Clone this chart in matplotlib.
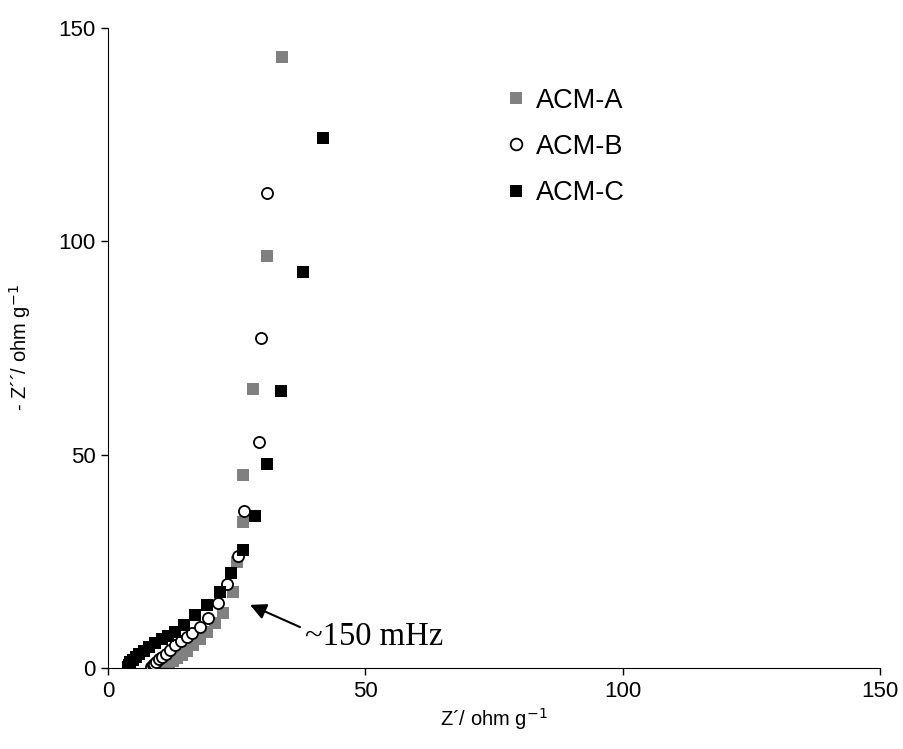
import matplotlib
matplotlib.use('Agg')
import matplotlib.pyplot as plt

plt.rcParams['font.family'] = ['Liberation Sans', 'DejaVu Sans']

# ACM-A (grey squares)
a_x = [10.8, 11.3, 11.9, 12.6, 13.4, 14.3, 15.3, 16.5, 17.8, 19.3, 20.8, 22.3, 24.3, 25.1, 26.2, 26.2, 28.2, 30.9, 33.8]
a_y = [0.0, 0.5, 1.0, 1.6, 2.3, 3.1, 4.1, 5.3, 6.7, 8.4, 10.5, 13.0, 17.8, 24.8, 34.2, 45.2, 65.4, 96.6, 143.2]

# ACM-B (open circles)
b_x = [8.4, 8.7, 9.0, 9.4, 9.9, 10.5, 11.2, 12.0, 13.0, 14.2, 15.3, 16.3, 17.9, 19.4, 21.4, 23.1, 25.3, 26.4, 29.3, 29.7, 30.9]
b_y = [0.2, 0.6, 1.0, 1.5, 2.0, 2.7, 3.4, 4.3, 5.3, 6.3, 7.3, 8.2, 9.6, 11.7, 15.2, 19.7, 26.2, 36.8, 53.0, 77.3, 111.3]

# ACM-C (black squares)
c_x = [3.9, 4.0, 4.3, 4.8, 5.4, 6.1, 7.0, 8.0, 9.2, 10.5, 11.7, 13.0, 14.8, 16.9, 19.2, 21.8, 23.9, 26.2, 28.6, 30.9, 33.6, 37.9, 41.8]
c_y = [0.3, 0.8, 1.3, 1.9, 2.5, 3.2, 4.0, 4.9, 5.8, 6.8, 7.5, 8.4, 10.1, 12.4, 14.8, 17.8, 22.3, 27.7, 35.6, 47.8, 64.9, 92.8, 124.2]

fig = plt.figure(figsize=(9.04, 7.49), dpi=100)
ax = fig.add_axes([0.1195, 0.1081, 0.854, 0.8545])

ax.plot(a_x, a_y, 's', color='#808080', markersize=8.5, markeredgewidth=0, label='ACM-A', zorder=2)
ax.plot(b_x, b_y, 'o', markerfacecolor='white', markeredgecolor='black', markersize=8, markeredgewidth=1.3, label='ACM-B', zorder=3)
ax.plot(c_x, c_y, 's', color='black', markersize=8.5, markeredgewidth=0, label='ACM-C', zorder=4)

ax.set_xlim(0, 150)
ax.set_ylim(0, 150)
ax.set_xticks([0, 50, 100, 150])
ax.set_yticks([0, 50, 100, 150])
ax.tick_params(labelsize=16, direction='out', length=5, width=1, pad=4)
ax.spines['top'].set_visible(False)
ax.spines['right'].set_visible(False)

ax.set_xlabel('Z´/ ohm g$^{-1}$', fontsize=14.5, labelpad=3)
ax.set_ylabel('- Z´´/ ohm g$^{-1}$', fontsize=14.5, labelpad=18)

# arrow marking the ~150 mHz point
ax.annotate('', xy=(27.6, 14.8), xytext=(37.3, 9.6),
            arrowprops=dict(arrowstyle='-|>', color='black', lw=1.5, mutation_scale=24,
                            shrinkA=0, shrinkB=0))
ax.text(38.3, 7.3, '~150 mHz', fontsize=23.5, family=['Liberation Serif'],
        ha='left', va='center')

leg = ax.legend(loc='upper left', bbox_to_anchor=(0.487, 0.945), frameon=False, fontsize=19.5,
                handlelength=0.6, handletextpad=0.4, labelspacing=0.75, markerscale=1.05)

fig.savefig('out.png', dpi=100)
